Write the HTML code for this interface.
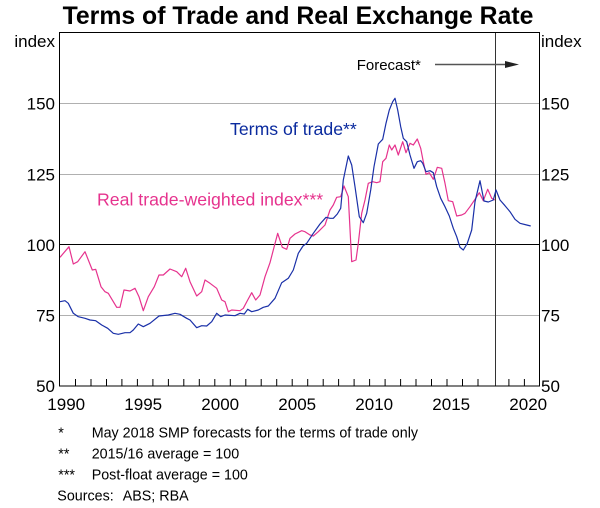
<!DOCTYPE html>
<html>
<head>
<meta charset="utf-8">
<style>
html,body{margin:0;padding:0;background:#fff;}
svg{display:block;}
text{font-family:"Liberation Sans",Arial,sans-serif;}
</style>
</head>
<body>
<svg width="600" height="508" viewBox="0 0 600 508" xmlns="http://www.w3.org/2000/svg">
<rect x="0" y="0" width="600" height="508" fill="#fff"/>
<!-- Title -->
<text x="298" y="24" font-size="24.8" font-weight="bold" text-anchor="middle" fill="#000">Terms of Trade and Real Exchange Rate</text>

<!-- gridlines -->
<g stroke="#b0b0b0" stroke-width="1">
<line x1="60" y1="103.5" x2="539" y2="103.5"/>
<line x1="60" y1="174.5" x2="539" y2="174.5"/>
<line x1="60" y1="315.5" x2="539" y2="315.5"/>
</g>
<line x1="60" y1="244.5" x2="539" y2="244.5" stroke="#000" stroke-width="1"/>

<!-- forecast line -->
<line x1="495.5" y1="32.5" x2="495.5" y2="386" stroke="#333" stroke-width="1"/>

<!-- ticks -->
<g stroke="#000" stroke-width="1">
<line x1="75.5" y1="379" x2="75.5" y2="386"/>
<line x1="91" y1="379" x2="91" y2="386"/>
<line x1="106.5" y1="379" x2="106.5" y2="386"/>
<line x1="121.9" y1="379" x2="121.9" y2="386"/>
<line x1="137.4" y1="379" x2="137.4" y2="386"/>
<line x1="152.9" y1="379" x2="152.9" y2="386"/>
<line x1="168.4" y1="379" x2="168.4" y2="386"/>
<line x1="183.8" y1="379" x2="183.8" y2="386"/>
<line x1="199.3" y1="379" x2="199.3" y2="386"/>
<line x1="214.8" y1="379" x2="214.8" y2="386"/>
<line x1="230.3" y1="379" x2="230.3" y2="386"/>
<line x1="245.8" y1="379" x2="245.8" y2="386"/>
<line x1="261.2" y1="379" x2="261.2" y2="386"/>
<line x1="276.7" y1="379" x2="276.7" y2="386"/>
<line x1="292.2" y1="379" x2="292.2" y2="386"/>
<line x1="307.7" y1="379" x2="307.7" y2="386"/>
<line x1="323.2" y1="379" x2="323.2" y2="386"/>
<line x1="338.6" y1="379" x2="338.6" y2="386"/>
<line x1="354.1" y1="379" x2="354.1" y2="386"/>
<line x1="369.6" y1="379" x2="369.6" y2="386"/>
<line x1="385.1" y1="379" x2="385.1" y2="386"/>
<line x1="400.6" y1="379" x2="400.6" y2="386"/>
<line x1="416" y1="379" x2="416" y2="386"/>
<line x1="431.5" y1="379" x2="431.5" y2="386"/>
<line x1="447" y1="379" x2="447" y2="386"/>
<line x1="462.5" y1="379" x2="462.5" y2="386"/>
<line x1="478" y1="379" x2="478" y2="386"/>
<line x1="508.9" y1="379" x2="508.9" y2="386"/>
<line x1="524.4" y1="379" x2="524.4" y2="386"/>
</g>

<!-- series: real TWI (pink) -->
<polyline fill="none" stroke="#e6338e" stroke-width="1.2" stroke-linejoin="round" points="60,257.3 69,246.7 73.3,264 77.7,261.7 85,251.7 92.3,270 95.7,269.3 101,286.7 105,291.7 108.3,293.3 116.7,307.3 120,307.3 124,290 130,291 135,288.3 139,296.7 143.3,310.7 148.3,296.7 154.3,286.7 159,275 163.3,275 170,269 176.7,271.7 181.7,276.7 185.7,268.3 190,281.7 196.7,296 201.7,291.7 205,280 210,283.3 216.7,288.3 221.7,300 225,301.7 228.3,311.7 231.7,310 240,310.7 243.3,308.3 247.7,300 251.7,292.7 255.7,300 260,295 265,276.7 270,262.7 273.3,250 277.7,233.3 282.3,247.3 286.7,249.3 290,238.3 295,234 301.7,230.7 305,231.7 310,235 313.3,236 318.3,231.7 325,225 330,210 333.3,205 336.7,197.3 340.7,196.7 344,186 348.3,196.7 351.7,261.7 356,260 358.3,243.3 361.7,213.3 365,200 368.3,183.3 372.7,181.7 376.7,182.7 380,181.7 382.7,161.7 386,158.3 389.3,145 391.7,150 395,145 398.3,155 402.7,141.7 406,152.7 410,143.3 413.3,145 417.3,139 420.7,148.3 423.3,161.7 426,174.3 429.3,172.7 433.3,179.3 437.3,167.3 441.7,168.3 445,183.3 448.3,200.7 452.7,201.7 456.7,216 461.7,215 465,213.3 470,206.7 475,199.3 479.3,192.7 483.3,200.7 487.7,189.3 491.7,198.3 495,200"/>

<!-- series: terms of trade (blue) -->
<polyline fill="none" stroke="#1a30a8" stroke-width="1.2" stroke-linejoin="round" points="60,301.7 65,300.7 68.3,303.3 73.3,313.3 78.3,316.7 85,318.3 90,320 95.7,320.7 101.7,325 107.7,328.3 113.3,333.3 118.3,334.3 125,332.7 130,332.7 133.3,330 138.3,324 143.3,326.7 150,323.3 159,316 168.3,315 175,313.3 180,314.3 186.7,318.3 190,320 196.7,327.7 201.7,325.7 206.7,326 211.7,321.7 216.7,313.3 220.7,316.7 225,315 235,315.7 240,313.3 244.3,314 247.7,309.3 251.7,311.7 258.3,310 263.3,307.3 268.3,306 275,298.3 281.7,282.7 288.3,278.3 293.3,270 298.3,253.3 303,246 306.7,243.3 313.3,233.3 320,224 326,217.3 330,218.3 333.3,218.3 337.3,214 340.7,208.3 343.3,180 348.3,156 351.7,165 355,186.7 359.3,216.7 363.3,222.7 366.7,213.3 370.7,190 374,166.7 378.3,144 382.7,139.3 386,123.3 389.3,110 392.7,101.7 395,98.3 397.7,110 400.7,126.7 403.3,138.3 406.7,141.7 410,155 414,168.3 417.3,161.7 420.7,160.7 422.7,163.3 426,171.7 430,170.7 433.3,172.7 436.7,186.7 440.7,198.3 445,206.7 449.3,216 453.3,228.3 456.7,236.7 460,247.3 463.3,250 467.3,243.3 471.7,230 475,201.7 480,180.7 484,201 488.3,202 493.3,200 496,190 500,200 505,205.7 510,211.7 515,219.3 520,223.3 526.7,225 530.7,226"/>

<!-- frame -->
<rect x="59.5" y="32.5" width="480" height="353.5" fill="none" stroke="#000" stroke-width="1"/>

<!-- y-axis labels -->
<g font-size="17" fill="#000">
<text x="55" y="47" text-anchor="end">index</text>
<text x="55" y="109.5" text-anchor="end">150</text>
<text x="55" y="180.5" text-anchor="end">125</text>
<text x="55" y="250.8" text-anchor="end">100</text>
<text x="55" y="321.5" text-anchor="end">75</text>
<text x="55" y="392" text-anchor="end">50</text>
<text x="541" y="47">index</text>
<text x="541" y="109.5">150</text>
<text x="541" y="180.5">125</text>
<text x="541" y="250.8">100</text>
<text x="541" y="321.5">75</text>
<text x="541" y="392">50</text>
</g>

<!-- x-axis labels -->
<g font-size="17" fill="#000" text-anchor="middle">
<text x="66.2" y="410">1990</text>
<text x="143.2" y="410">1995</text>
<text x="220.2" y="410">2000</text>
<text x="297.2" y="410">2005</text>
<text x="374.2" y="410">2010</text>
<text x="451.2" y="410">2015</text>
<text x="528.2" y="410">2020</text>
</g>

<!-- series labels -->
<text x="230" y="135" font-size="17.7" fill="#0a2a9e">Terms of trade**</text>
<text x="97" y="205.7" font-size="17.7" fill="#e6338e">Real trade-weighted index***</text>

<!-- forecast annotation -->
<text x="356.7" y="70" font-size="15" fill="#000">Forecast*</text>
<line x1="435" y1="64.5" x2="507" y2="64.5" stroke="#555" stroke-width="1.5"/>
<polygon points="505,61 519,64.5 505,68" fill="#222"/>

<!-- footnotes -->
<g font-size="14.3" fill="#000">
<text x="58.3" y="437.3">*</text>
<text x="91.7" y="437.3">May 2018 SMP forecasts for the terms of trade only</text>
<text x="58.3" y="458.3">**</text>
<text x="91.7" y="458.3">2015/16 average = 100</text>
<text x="58.3" y="479.3">***</text>
<text x="91.7" y="479.3">Post-float average = 100</text>
<text x="57.3" y="500.7">Sources:</text>
<text x="122.7" y="500.7">ABS; RBA</text>
</g>
</svg>
</body>
</html>
